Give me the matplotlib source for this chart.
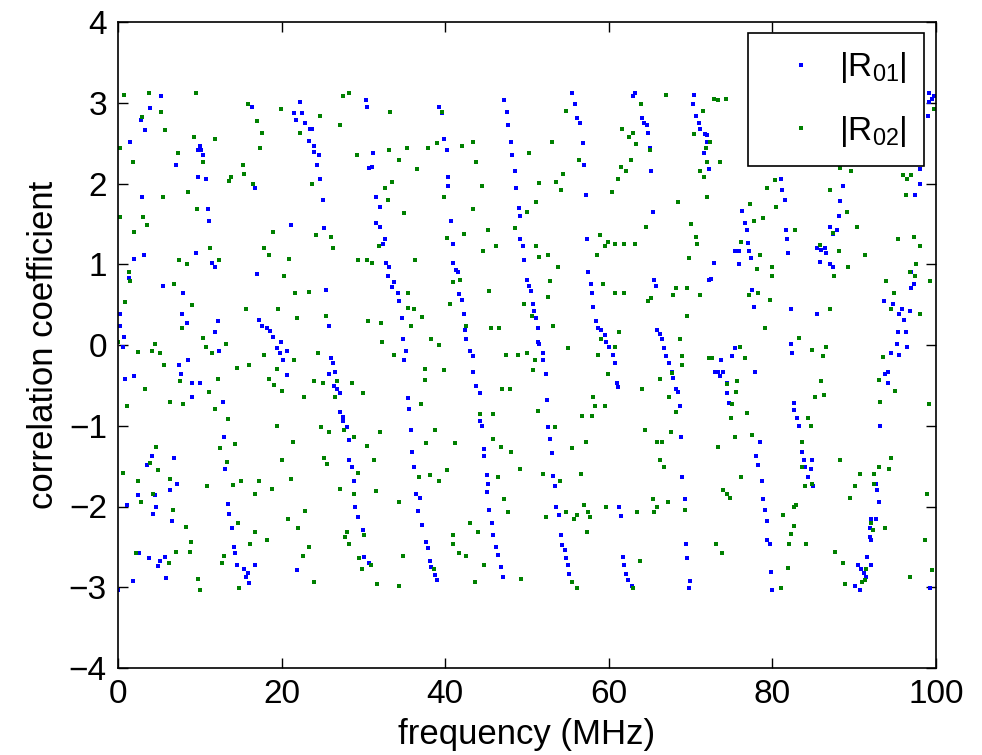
import matplotlib
matplotlib.use("Agg")
import matplotlib.pyplot as plt

plt.rcParams['font.family'] = ['Liberation Sans', 'DejaVu Sans']
plt.rcParams['mathtext.fontset'] = 'custom'
plt.rcParams['mathtext.rm'] = 'Liberation Sans'
plt.rcParams['mathtext.it'] = 'Liberation Sans'
plt.rcParams['mathtext.default'] = 'regular'

# |R01| samples (frequency MHz, value)
r01_points = [
    (5.2, 3.08), (3.9, 2.93), (2.8, 2.79), (3.3, 2.66), (1.5, 2.52), (9.8, 2.42), (7.1, 2.23), (9.8, 2.08),
    (2.9, 1.83), (2.0, 1.07), (3.2, 1.11), (9.5, 1.14), (1.3, 0.83), (5.5, 0.73), (8.0, 0.65), (0.2, 0.39),
    (7.8, 0.39), (8.4, 0.27), (0.3, 0.24), (0.7, 0.10), (0.6, -0.02), (8.6, -0.19), (7.5, -0.25), (7.7, -0.36),
    (0.9, -0.42), (2.0, -0.39), (9.1, -0.47), (10.0, -0.47), (9.1, -0.64), (4.1, -1.37), (3.5, -1.49), (6.8, -1.40),
    (7.2, -1.72), (6.3, -1.80), (2.4, -1.86), (1.1, -1.98), (4.5, -1.86), (4.6, -2.00), (4.3, -2.09), (6.6, -2.18),
    (2.6, -2.58), (3.8, -2.64), (5.1, -2.68), (5.7, -2.62), (4.9, -2.74), (1.8, -2.92), (0.0, -3.03), (5.9, -2.89),
    (16.4, 2.95), (10.0, 2.47), (10.1, 2.41), (10.4, 2.35), (10.8, 2.05), (16.8, 1.94), (11.0, 1.68), (11.1, 1.54),
    (11.5, 1.02), (11.9, 0.96), (17.0, 0.88), (12.2, 0.30), (11.9, 0.16), (17.2, 0.31), (17.6, 0.24), (18.2, 0.21),
    (18.6, 0.17), (18.9, 0.10), (19.9, 0.04), (19.4, -0.04), (19.8, -0.10), (20.2, -0.19), (12.3, -0.07), (12.8, -0.71),
    (13.0, -1.14), (13.1, -1.54), (13.5, -1.97), (13.6, -2.09), (13.9, -2.27), (14.2, -2.50), (14.3, -2.57), (14.6, -2.72),
    (15.4, -2.77), (15.9, -2.82), (15.6, -2.87), (16.0, -2.95), (16.7, -2.72),
    (22.2, 3.01), (30.3, 3.03), (30.5, 2.95), (21.5, 2.87), (22.5, 2.87), (21.8, 2.79), (22.9, 2.75), (23.5, 2.67),
    (23.7, 2.67), (23.4, 2.53), (24.0, 2.46), (23.9, 2.39), (24.6, 2.35), (24.3, 2.23), (24.7, 2.06), (30.7, 2.19),
    (25.0, 1.80), (21.1, 1.49), (25.2, 1.45), (25.4, 0.68), (25.8, 0.24), (20.6, -0.08), (20.7, -0.37), (26.0, -0.16),
    (26.3, -0.22), (25.8, -0.36), (26.5, -0.34), (26.4, -0.51), (26.8, -0.54), (27.1, -0.60), (27.1, -0.83), (27.5, -0.89),
    (27.5, -0.94), (27.95, -1.02), (28.2, -1.18), (28.3, -1.42), (28.6, -1.51), (28.9, -1.68), (29.0, -2.01), (29.4, -2.13),
    (29.9, -2.29), (30.1, -2.62), (30.7, -2.70), (21.9, -2.79),
    (39.2, 2.95), (39.6, 2.87), (39.8, 2.55), (40.2, 2.41), (31.2, 2.38), (31.0, 2.20), (40.3, 2.08), (40.4, 1.97),
    (31.5, 1.83), (32.0, 1.71), (40.7, 1.54), (31.6, 1.51), (32.0, 1.46), (32.6, 1.31), (32.4, 1.25), (41.0, 1.25),
    (32.8, 1.02), (33.1, 0.96), (41.0, 1.02), (33.05, 0.85), (33.8, 0.78), (33.5, 0.72), (34.2, 0.65), (34.3, 0.54),
    (34.7, 0.33), (34.8, 0.08), (35.2, -0.07), (35.0, -0.19), (35.4, -0.66), (35.6, -0.79), (35.8, -1.05), (36.0, -1.33),
    (36.2, -1.51), (36.4, -1.84), (36.9, -1.90), (36.7, -2.06), (37.2, -2.23), (37.7, -2.44), (37.9, -2.52), (38.1, -2.68),
    (38.3, -2.75), (38.8, -2.85), (39.0, -2.91),
    (47.2, 3.03), (47.5, 2.89), (47.7, 2.72), (48.1, 2.52), (48.2, 2.35), (48.5, 2.15), (48.7, 1.94), (48.98, 1.70),
    (49.2, 1.60), (49.2, 1.31), (49.5, 1.23), (49.6, 1.05), (41.3, 0.93), (41.6, 0.90), (50.0, 0.81), (50.3, 0.73),
    (50.5, 0.67), (41.7, 0.63), (42.0, 0.56), (50.7, 0.51), (50.8, 0.42), (51.1, 0.33), (51.3, 0.21), (42.3, 0.39),
    (42.4, 0.19), (42.6, 0.07), (51.4, 0.04), (43.0, -0.08), (43.4, -0.14), (43.4, -0.34), (43.8, -0.51), (44.2, -0.60),
    (44.3, -0.94), (44.5, -1.00), (44.7, -1.29), (44.7, -1.37), (45.1, -1.61), (45.2, -1.72), (45.1, -1.82), (45.4, -2.04),
    (45.7, -2.21), (45.9, -2.35), (46.2, -2.50), (46.5, -2.60), (46.8, -2.75), (47.1, -2.87),
    (55.5, 3.12), (55.9, 2.98), (56.1, 2.81), (56.5, 2.75), (56.8, 2.50), (57.0, 2.23), (57.2, 1.86), (57.3, 1.31),
    (57.5, 0.91), (57.8, 0.76), (57.98, 0.65), (58.1, 0.47), (58.4, 0.30), (58.7, 0.21), (59.1, 0.18), (59.5, 0.12),
    (59.7, 0.04), (59.97, -0.02), (60.5, -0.12), (60.7, -0.22), (60.97, -0.47), (61.1, -0.52), (51.5, 0.01), (51.9, -0.10),
    (52.0, -0.19), (52.3, -0.36), (52.5, -0.68), (52.6, -1.02), (52.8, -1.17), (53.0, -1.34), (53.2, -1.62), (53.4, -1.75),
    (53.6, -2.01), (53.9, -2.11), (54.2, -2.35), (54.3, -2.48), (54.6, -2.54), (54.8, -2.64), (55.0, -2.72), (55.1, -2.83),
    (61.2, -2.01), (61.5, -2.12), (61.7, -2.62), (61.8, -2.72),
    (63.2, 3.12), (63.0, 3.08), (70.4, 3.10), (70.3, 2.98), (64.0, 2.81), (64.3, 2.75), (64.7, 2.72), (70.7, 2.84),
    (71.0, 2.75), (71.2, 2.68), (71.8, 2.61), (72.0, 2.60), (64.8, 2.63), (65.0, 2.44), (72.0, 2.52), (71.6, 2.38),
    (65.1, 2.16), (72.3, 2.18), (65.4, 1.65), (65.5, 0.81), (65.8, 0.73), (72.3, 0.81), (65.9, 0.18), (66.3, 0.14),
    (66.5, 0.07), (66.7, -0.04), (67.0, -0.14), (67.3, -0.22), (67.7, -0.34), (67.8, -0.41), (68.2, -0.54), (68.5, -0.58),
    (68.7, -0.76), (68.8, -1.14), (69.0, -1.63), (69.3, -1.91), (69.4, -2.47), (69.5, -2.64), (69.97, -2.92), (69.8, -3.01),
    (62.1, -2.84), (62.4, -2.91), (62.8, -2.99),
    (81.1, 2.06), (81.2, 1.92), (81.5, 1.80), (76.3, 1.66), (76.6, 1.51), (76.9, 1.42), (77.0, 1.26), (81.7, 1.42),
    (81.8, 1.31), (75.4, 1.16), (75.9, 1.17), (77.1, 1.16), (77.4, 1.08), (81.9, 1.14), (72.8, 1.02), (75.9, 1.00),
    (72.5, 0.82), (77.5, 0.68), (77.7, 0.47), (82.3, 0.45), (82.3, 0.01), (82.4, -0.10), (75.4, -0.04), (75.0, -0.14),
    (73.7, -0.19), (73.0, -0.34), (73.4, -0.34), (74.0, -0.34), (73.6, -0.39), (77.9, -0.34), (74.5, -0.47), (74.4, -0.60),
    (74.7, -0.72), (82.6, -0.72), (82.7, -0.80), (78.5, -1.20), (77.96, -1.37), (78.3, -1.49), (78.7, -1.68), (78.9, -1.91),
    (79.1, -2.04), (79.3, -2.18), (79.4, -2.41), (79.7, -2.47), (79.8, -2.81), (80.0, -3.03),
    (88.6, 1.97), (88.3, 1.78), (88.2, 1.60), (87.9, 1.43), (87.0, 1.46), (87.4, 1.38), (85.4, 1.20), (86.0, 1.18),
    (86.4, 1.20), (86.5, 1.14), (85.8, 1.03), (87.0, 1.00), (87.4, 0.96), (85.5, 0.39), (82.97, -0.91), (83.2, -1.00),
    (93.1, -1.00), (83.6, -1.33), (83.9, -1.42), (84.0, -1.51), (84.9, -1.42), (84.7, -1.54), (84.4, -1.63), (85.0, -1.75),
    (92.7, -1.72), (92.8, -1.80), (92.1, -2.16), (92.7, -2.16), (91.9, -2.27), (91.9, -2.38), (91.6, -2.63), (92.0, -2.72),
    (90.5, -2.72), (90.8, -2.77), (91.2, -2.82), (91.4, -2.87), (90.1, -2.98), (90.7, -3.03),
    (99.1, 3.12), (99.5, 3.05), (99.8, 3.08), (99.2, 3.01), (99.0, 2.84), (98.1, 2.18), (98.0, 2.00), (97.4, 1.86),
    (97.0, 0.90), (97.3, 0.76), (96.9, 0.70), (93.6, 0.54), (94.8, 0.51), (95.8, 0.44), (96.8, 0.42), (95.5, 0.39),
    (96.1, 0.31), (95.3, 0.16), (96.3, 0.16), (95.2, 0.01), (96.5, -0.02), (94.5, -0.10), (95.5, -0.13), (94.1, -0.33),
    (93.8, -0.36), (94.1, -0.47), (93.0, -1.51), (93.0, -1.94), (92.1, -2.41), (99.3, -3.01),
]

# |R02| samples (frequency MHz, value)
r02_points = [
    (0.7, 3.10), (3.8, 3.12), (5.2, 2.89), (9.5, 3.12), (2.9, 2.82), (5.8, 2.66), (9.3, 2.58), (0.2, 2.44),
    (7.3, 2.38), (1.8, 2.27), (8.6, 1.89), (5.5, 1.83), (9.7, 1.69), (0.2, 1.58), (3.1, 1.58), (3.5, 1.48),
    (2.0, 1.40), (7.4, 1.05), (8.4, 1.00), (1.4, 0.90), (1.5, 0.79), (6.8, 0.76), (9.1, 0.50), (0.9, 0.53),
    (7.8, 0.21), (0.0, 0.04), (4.5, 0.01), (2.5, -0.09), (4.1, -0.07), (5.1, -0.10), (5.6, -0.25), (7.6, -0.45),
    (3.3, -0.54), (6.3, -0.71), (8.0, -0.73), (1.1, -0.76), (4.6, -1.26), (3.9, -1.46), (4.9, -1.55), (0.6, -1.58),
    (2.4, -1.69), (6.4, -1.66), (4.3, -1.84), (2.8, -1.95), (6.7, -2.04), (8.3, -2.26), (8.9, -2.44), (2.2, -2.58),
    (8.8, -2.56), (7.1, -2.56), (6.2, -2.70), (9.8, -2.90),
    (15.9, 2.98), (19.9, 2.92), (17.0, 2.78), (17.6, 2.63), (11.9, 2.55), (17.4, 2.44), (10.4, 2.27), (15.3, 2.23),
    (15.4, 2.12), (13.8, 2.08), (13.6, 2.03), (16.5, 2.00), (19.0, 1.40), (17.8, 1.20), (18.5, 1.11), (11.2, 1.20),
    (12.3, 1.05), (20.3, 0.85), (15.6, 0.45), (19.6, 0.45), (10.4, 0.09), (10.7, -0.02), (13.2, 0.01), (11.5, -0.10),
    (17.9, -0.13), (14.5, -0.28), (16.0, -0.25), (19.4, -0.30), (12.2, -0.42), (18.5, -0.42), (19.1, -0.50), (20.1, -0.57),
    (11.1, -0.58), (11.8, -0.79), (13.5, -0.92), (19.4, -1.00), (14.3, -1.23), (12.5, -1.28), (13.3, -1.45), (20.1, -1.42),
    (10.9, -1.75), (14.1, -1.73), (15.0, -1.69), (17.2, -1.68), (18.8, -1.78), (16.7, -1.84), (14.7, -2.21), (16.7, -2.32),
    (18.2, -2.41), (16.1, -2.47), (12.9, -2.61), (12.7, -2.70), (10.0, -3.03), (14.8, -3.01),
    (27.5, 3.08), (28.2, 3.12), (24.7, 2.84), (27.1, 2.72), (22.3, 2.63), (29.2, 2.35), (23.7, 2.00), (24.2, 1.36),
    (26.0, 1.34), (26.3, 1.20), (20.9, 1.07), (29.3, 1.05), (21.6, 0.65), (23.3, 0.66), (21.9, 0.33), (25.4, 0.36),
    (30.6, 0.30), (24.4, -0.10), (21.5, -0.19), (23.9, -0.45), (25.1, -0.47), (26.8, -0.45), (28.6, -0.47), (29.9, -0.59),
    (22.7, -0.65), (26.5, -0.65), (24.8, -1.02), (25.8, -1.08), (27.6, -1.05), (28.8, -1.14), (21.4, -1.20), (30.5, -1.25),
    (25.2, -1.40), (25.6, -1.47), (29.4, -1.58), (21.1, -1.66), (27.1, -1.78), (28.9, -1.84), (22.9, -2.06), (20.8, -2.15),
    (22.0, -2.27), (28.0, -2.32), (27.8, -2.38), (30.1, -2.35), (28.3, -2.46), (23.4, -2.50), (22.6, -2.61), (29.5, -2.64),
    (29.8, -2.78), (24.0, -2.93),
    (33.3, 2.89), (39.0, 2.50), (39.6, 2.88), (33.1, 2.41), (35.3, 2.44), (37.9, 2.44), (34.3, 2.29), (36.6, 2.18),
    (33.5, 2.02), (32.6, 1.95), (32.97, 1.80), (39.8, 1.83), (35.0, 1.63), (40.2, 1.32), (31.9, 1.23), (36.3, 1.05),
    (30.4, 1.05), (31.1, 1.02), (41.0, 0.78), (35.5, 0.65), (40.6, 0.51), (35.5, 0.46), (36.2, 0.44), (37.2, 0.35),
    (32.2, 0.27), (35.8, 0.24), (32.3, 0.04), (38.3, 0.08), (39.2, 0.00), (33.8, -0.13), (37.5, -0.30), (39.9, -0.31),
    (37.5, -0.43), (37.05, -0.73), (32.0, -1.08), (38.8, -1.05), (37.7, -1.21), (41.2, -1.21), (31.3, -1.42), (40.2, -1.55),
    (36.8, -1.64), (38.1, -1.61), (39.2, -1.69), (31.5, -1.81), (34.3, -1.95), (41.0, -2.35), (34.8, -2.61), (30.9, -2.72),
    (38.6, -2.77), (31.7, -2.96), (34.4, -2.99),
    (42.0, 2.46), (43.4, 2.52), (43.8, 2.27), (50.3, 2.38), (44.5, 1.97), (51.5, 2.01), (43.4, 1.68), (51.1, 1.77),
    (50.0, 1.65), (48.5, 1.45), (45.2, 1.42), (42.3, 1.37), (46.2, 1.23), (44.6, 1.17), (51.1, 1.23), (51.5, 1.09),
    (41.8, 0.81), (45.4, 0.67), (49.6, 0.51), (50.6, 0.36), (42.6, 0.24), (45.6, 0.21), (46.6, 0.21), (47.4, -0.13),
    (48.9, -0.13), (50.0, -0.10), (50.7, -0.31), (46.9, -0.54), (47.9, -0.54), (44.2, -0.85), (45.8, -0.85), (51.3, -0.82),
    (45.9, -1.17), (46.8, -1.26), (48.1, -1.33), (49.2, -1.54), (46.4, -1.63), (47.2, -1.91), (47.7, -2.07), (43.0, -2.21),
    (44.0, -2.32), (41.0, -2.47), (41.7, -2.58), (42.6, -2.61), (44.7, -2.72), (43.6, -2.93), (49.3, -2.90),
    (54.8, 2.90), (61.6, 2.67), (53.1, 2.52), (56.3, 2.29), (61.5, 2.20), (54.4, 2.12), (53.6, 2.02), (61.1, 2.06),
    (54.2, 1.92), (60.4, 1.89), (58.9, 1.36), (59.9, 1.28), (59.5, 1.22), (60.8, 1.25), (52.6, 1.11), (58.5, 1.11),
    (53.8, 0.96), (52.8, 0.79), (59.3, 0.76), (60.7, 0.65), (61.9, 0.65), (52.6, 0.59), (53.2, 0.24), (55.0, -0.04),
    (61.3, 0.16), (59.1, 0.08), (60.8, -0.02), (58.7, -0.13), (59.9, -0.36), (51.0, -0.19), (58.1, -0.65), (58.3, -0.76),
    (59.5, -0.76), (56.7, -0.88), (57.98, -0.88), (53.4, -1.02), (57.2, -1.20), (55.5, -1.28), (52.0, -1.60), (54.0, -1.69),
    (56.6, -1.60), (57.0, -1.98), (59.6, -2.00), (54.8, -2.07), (56.1, -2.10), (57.5, -2.07), (57.7, -2.13), (55.8, -2.15),
    (52.3, -2.13), (57.3, -2.32), (55.5, -2.94), (56.1, -3.01),
    (63.9, 2.98), (67.0, 3.10), (71.5, 2.90), (62.5, 2.58), (62.9, 2.62), (63.3, 2.49), (70.4, 2.61), (65.0, 2.41),
    (71.9, 2.44), (62.7, 2.29), (62.1, 2.15), (71.1, 2.15), (71.6, 2.08), (68.5, 1.77), (72.0, 1.83), (64.6, 1.46),
    (70.1, 1.50), (70.7, 1.34), (70.8, 1.25), (61.9, 1.25), (63.2, 1.25), (69.8, 1.08), (68.2, 0.71), (69.6, 0.70),
    (67.9, 0.62), (71.2, 0.62), (64.8, 0.54), (65.2, 0.58), (69.5, 0.36), (68.7, 0.07), (68.9, -0.14), (69.0, -0.25),
    (72.3, -0.16), (66.2, -0.42), (67.7, -0.35), (64.1, -0.54), (67.3, -0.65), (68.2, -0.83), (64.4, -1.05), (67.6, -1.08),
    (65.9, -1.20), (66.5, -1.20), (66.3, -1.42), (66.7, -1.51), (65.4, -1.91), (65.9, -2.01), (67.2, -1.94), (65.5, -2.07),
    (63.5, -2.07), (69.3, -2.04), (63.8, -2.68), (63.0, -3.01),
    (72.9, 3.05), (73.3, 3.04), (74.3, 3.05), (72.4, 2.52), (72.0, 2.27), (73.6, 2.27), (80.3, 2.04), (79.3, 1.94),
    (77.3, 1.75), (80.5, 1.71), (77.8, 1.54), (78.9, 1.57), (76.2, 1.28), (78.5, 1.11), (78.1, 0.94), (80.0, 0.96),
    (79.9, 0.85), (78.3, 0.65), (77.1, 0.62), (79.7, 0.56), (79.1, 0.21), (72.6, -0.16), (76.0, -0.02), (76.6, -0.16),
    (74.4, -0.48), (75.7, -0.45), (75.5, -0.58), (75.0, -0.73), (76.9, -0.84), (74.9, -0.91), (75.4, -1.14), (77.5, -1.11),
    (73.3, -1.26), (76.2, -1.63), (74.0, -1.80), (74.5, -1.84), (74.8, -1.89), (81.3, -2.11), (82.7, -2.00), (82.6, -2.24),
    (82.3, -2.34), (82.0, -2.47), (73.1, -2.47), (73.8, -2.58), (81.9, -2.76), (81.1, -3.01),
    (88.3, 2.19), (89.6, 2.16), (87.1, 1.92), (89.1, 1.65), (87.4, 1.39), (90.4, 1.46), (82.8, 1.42), (85.8, 1.24),
    (88.1, 1.17), (91.3, 1.11), (89.2, 0.97), (87.5, 0.85), (87.0, 0.45), (83.2, 0.09), (86.6, -0.02), (84.8, -0.06),
    (86.2, -0.14), (85.9, -0.45), (86.3, -0.62), (85.2, -0.65), (93.0, -0.43), (93.1, -0.71), (84.4, -0.91), (84.7, -1.00),
    (83.6, -1.20), (88.3, -1.42), (83.6, -1.51), (93.0, -1.51), (90.7, -1.60), (92.4, -1.60), (84.0, -1.75), (84.9, -1.72),
    (90.1, -1.75), (89.5, -1.89), (82.9, -1.98), (92.0, -2.21), (92.3, -2.29), (84.1, -2.47), (87.7, -2.56), (88.6, -2.70),
    (91.5, -2.77), (91.3, -2.91), (91.0, -2.94), (88.9, -2.96),
    (99.7, 2.92), (96.0, 2.11), (96.5, 2.06), (96.9, 2.11), (96.3, 1.86), (95.3, 1.31), (97.3, 1.34), (98.0, 1.23),
    (97.6, 1.00), (96.8, 0.91), (93.9, 0.79), (99.3, 0.79), (97.4, 0.85), (94.9, 0.65), (94.5, 0.44), (98.1, 0.39),
    (93.5, -0.15), (95.0, -0.57), (99.1, -0.73), (94.5, -1.40), (94.2, -1.54), (92.4, -1.72), (98.9, -1.84), (93.8, -2.27),
    (98.6, -2.41), (99.5, -2.79), (96.8, -2.87),
]

series_labels = [r'$|R_{01}|$', r'$|R_{02}|$']
series_colors = [(0.0, 0.0, 1.0), (0.0, 0.5, 0.0)]
x_ticks = [0, 20, 40, 60, 80, 100]
y_ticks = [-4, -3, -2, -1, 0, 1, 2, 3, 4]
x_label = 'frequency (MHz)'
y_label = 'correlation coefficient'

fig = plt.figure(figsize=(9.82, 7.55), dpi=100)
ax = fig.add_axes([118 / 982, 1 - 668 / 755, 818 / 982, 646 / 755])

for pts, lab, col in zip([r01_points, r02_points], series_labels, series_colors):
    fx, fy = zip(*pts)
    ax.plot(fx, fy, linestyle='none', marker='s', markersize=3.4, markeredgewidth=0,
            color=col, label=lab)

ax.set_xlim(0, 100)
ax.set_ylim(-4, 4)
ax.set_xticks(x_ticks)
ax.set_yticks(y_ticks)
ax.tick_params(direction='in', top=True, right=True, length=7, width=1.0,
               labelsize=24, pad=8, colors='black')
for sp in ax.spines.values():
    sp.set_linewidth(1.2)
ax.set_xlabel(x_label, fontsize=25, labelpad=6)
ax.set_ylabel(y_label, fontsize=25, labelpad=6)

leg = ax.legend(loc='upper right', bbox_to_anchor=(924 / 982, 1 - 33 / 755),
                bbox_transform=fig.transFigure, fontsize=24, frameon=True,
                fancybox=False, framealpha=1, edgecolor='black', facecolor='white',
                borderpad=0.52, handlelength=2.15, handletextpad=0.05,
                labelspacing=0.85, borderaxespad=0, numpoints=1)
leg.get_frame().set_linewidth(1.2)

fig.savefig('out.png', dpi=100)
